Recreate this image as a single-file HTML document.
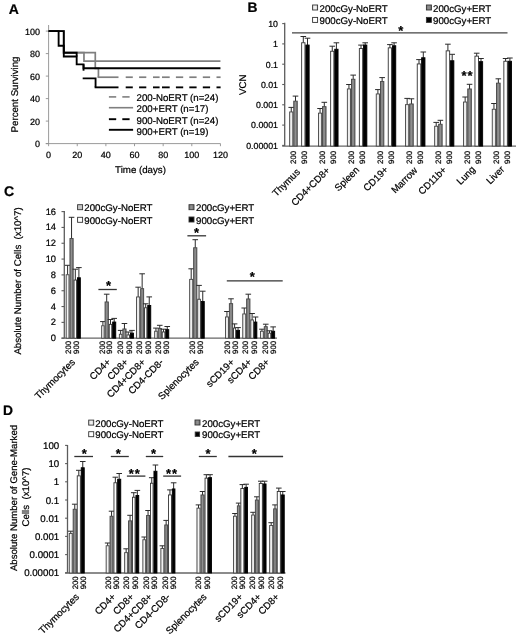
<!DOCTYPE html>
<html><head><meta charset="utf-8"><title>Figure</title>
<style>
html,body{margin:0;padding:0;background:#fff;}
text{stroke:#000;stroke-width:0.22px;}
svg{display:block;font-family:"Liberation Sans",sans-serif;text-rendering:geometricPrecision;will-change:transform;opacity:0.999;}
</style></head><body>
<svg width="520" height="638" viewBox="0 0 520 638">
<defs>
<linearGradient id="gl" x1="0" y1="0" x2="1" y2="0"><stop offset="0" stop-color="#d8d8d8"/><stop offset="0.5" stop-color="#f6f6f6"/><stop offset="1" stop-color="#d0d0d0"/></linearGradient>
<linearGradient id="gg" x1="0" y1="0" x2="1" y2="0"><stop offset="0" stop-color="#7a7a7a"/><stop offset="0.5" stop-color="#909090"/><stop offset="1" stop-color="#707070"/></linearGradient>
</defs>
<rect width="520" height="638" fill="#fff"/>
<text x="8.80" y="13.70" font-size="14" text-anchor="start" font-weight="bold" fill="#000">A</text>
<line x1="48.60" y1="25.00" x2="48.60" y2="143.60" stroke="#909090" stroke-width="0.9"/>
<line x1="45.80" y1="143.60" x2="220.50" y2="143.60" stroke="#909090" stroke-width="0.9"/>
<line x1="45.80" y1="143.60" x2="48.60" y2="143.60" stroke="#909090" stroke-width="0.9"/>
<text x="40.00" y="147.20" font-size="9.0" text-anchor="end" font-weight="normal" fill="#000">0</text>
<line x1="45.80" y1="121.10" x2="48.60" y2="121.10" stroke="#909090" stroke-width="0.9"/>
<text x="40.00" y="124.70" font-size="9.0" text-anchor="end" font-weight="normal" fill="#000">20</text>
<line x1="45.80" y1="98.60" x2="48.60" y2="98.60" stroke="#909090" stroke-width="0.9"/>
<text x="40.00" y="102.20" font-size="9.0" text-anchor="end" font-weight="normal" fill="#000">40</text>
<line x1="45.80" y1="76.10" x2="48.60" y2="76.10" stroke="#909090" stroke-width="0.9"/>
<text x="40.00" y="79.70" font-size="9.0" text-anchor="end" font-weight="normal" fill="#000">60</text>
<line x1="45.80" y1="53.60" x2="48.60" y2="53.60" stroke="#909090" stroke-width="0.9"/>
<text x="40.00" y="57.20" font-size="9.0" text-anchor="end" font-weight="normal" fill="#000">80</text>
<line x1="45.80" y1="31.10" x2="48.60" y2="31.10" stroke="#909090" stroke-width="0.9"/>
<text x="40.00" y="34.70" font-size="9.0" text-anchor="end" font-weight="normal" fill="#000">100</text>
<line x1="48.60" y1="143.60" x2="48.60" y2="146.20" stroke="#909090" stroke-width="0.9"/>
<text x="48.60" y="158.40" font-size="9.0" text-anchor="middle" font-weight="normal" fill="#000">0</text>
<line x1="77.24" y1="143.60" x2="77.24" y2="146.20" stroke="#909090" stroke-width="0.9"/>
<text x="77.24" y="158.40" font-size="9.0" text-anchor="middle" font-weight="normal" fill="#000">20</text>
<line x1="105.88" y1="143.60" x2="105.88" y2="146.20" stroke="#909090" stroke-width="0.9"/>
<text x="105.88" y="158.40" font-size="9.0" text-anchor="middle" font-weight="normal" fill="#000">40</text>
<line x1="134.52" y1="143.60" x2="134.52" y2="146.20" stroke="#909090" stroke-width="0.9"/>
<text x="134.52" y="158.40" font-size="9.0" text-anchor="middle" font-weight="normal" fill="#000">60</text>
<line x1="163.16" y1="143.60" x2="163.16" y2="146.20" stroke="#909090" stroke-width="0.9"/>
<text x="163.16" y="158.40" font-size="9.0" text-anchor="middle" font-weight="normal" fill="#000">80</text>
<line x1="191.80" y1="143.60" x2="191.80" y2="146.20" stroke="#909090" stroke-width="0.9"/>
<text x="191.80" y="158.40" font-size="9.0" text-anchor="middle" font-weight="normal" fill="#000">100</text>
<line x1="220.44" y1="143.60" x2="220.44" y2="146.20" stroke="#909090" stroke-width="0.9"/>
<text x="220.44" y="158.40" font-size="9.0" text-anchor="middle" font-weight="normal" fill="#000">120</text>
<text x="140.50" y="172.50" font-size="9.7" text-anchor="middle" font-weight="normal" fill="#000">Time (days)</text>
<text x="18.20" y="94.50" font-size="9.7" text-anchor="middle" font-weight="normal" fill="#000" transform="rotate(-90 18.20 94.50)">Percent Surviving</text>
<path d="M48.60 31.10 L63.78 31.10 L63.78 52.70 L95.28 52.70 L95.28 68.45 L98.43 68.45 L98.43 77.22" fill="none" stroke="#7f7f7f" stroke-width="1.7" stroke-linejoin="miter"/>
<line x1="97.58" y1="77.22" x2="118.50" y2="77.22" stroke="#7f7f7f" stroke-width="1.7"/>
<line x1="125.70" y1="77.22" x2="132.80" y2="77.22" stroke="#7f7f7f" stroke-width="1.7"/>
<line x1="139.10" y1="77.22" x2="146.30" y2="77.22" stroke="#7f7f7f" stroke-width="1.7"/>
<line x1="153.00" y1="77.22" x2="159.60" y2="77.22" stroke="#7f7f7f" stroke-width="1.7"/>
<line x1="162.00" y1="77.22" x2="169.70" y2="77.22" stroke="#7f7f7f" stroke-width="1.7"/>
<line x1="175.90" y1="77.22" x2="183.20" y2="77.22" stroke="#7f7f7f" stroke-width="1.7"/>
<line x1="189.30" y1="77.22" x2="196.60" y2="77.22" stroke="#7f7f7f" stroke-width="1.7"/>
<line x1="202.80" y1="77.22" x2="210.10" y2="77.22" stroke="#7f7f7f" stroke-width="1.7"/>
<line x1="216.50" y1="77.22" x2="220.60" y2="77.22" stroke="#7f7f7f" stroke-width="1.7"/>
<path d="M48.60 31.10 L63.78 31.10 L63.78 52.70 L83.97 52.70 L83.97 61.14 L220.44 61.14" fill="none" stroke="#7f7f7f" stroke-width="1.7" stroke-linejoin="miter"/>
<path d="M48.60 31.10 L58.62 31.10 L58.62 45.72 L63.78 45.72 L63.78 52.70 L76.67 52.70 L76.67 56.52" fill="none" stroke="#000" stroke-width="1.85" stroke-linejoin="miter"/>
<path d="M83.54 64.40 L83.54 70.70" fill="none" stroke="#000" stroke-width="1.85" stroke-linejoin="miter"/>
<path d="M82.68 78.35 L95.57 78.35 L95.57 87.35" fill="none" stroke="#000" stroke-width="1.85" stroke-linejoin="miter"/>
<line x1="94.64" y1="87.35" x2="118.50" y2="87.35" stroke="#000" stroke-width="1.85"/>
<line x1="125.70" y1="87.35" x2="132.80" y2="87.35" stroke="#000" stroke-width="1.85"/>
<line x1="139.10" y1="87.35" x2="146.30" y2="87.35" stroke="#000" stroke-width="1.85"/>
<line x1="153.00" y1="87.35" x2="159.60" y2="87.35" stroke="#000" stroke-width="1.85"/>
<line x1="162.00" y1="87.35" x2="169.70" y2="87.35" stroke="#000" stroke-width="1.85"/>
<line x1="175.90" y1="87.35" x2="183.20" y2="87.35" stroke="#000" stroke-width="1.85"/>
<line x1="189.30" y1="87.35" x2="196.60" y2="87.35" stroke="#000" stroke-width="1.85"/>
<line x1="202.80" y1="87.35" x2="210.10" y2="87.35" stroke="#000" stroke-width="1.85"/>
<line x1="216.50" y1="87.35" x2="220.60" y2="87.35" stroke="#000" stroke-width="1.85"/>
<path d="M48.60 31.10 L63.78 31.10 L63.78 56.52 L76.67 56.52 L76.67 64.40 L83.54 64.40 L83.54 68.22 L220.44 68.22" fill="none" stroke="#000" stroke-width="1.85" stroke-linejoin="miter"/>
<line x1="108.90" y1="96.90" x2="116.20" y2="96.90" stroke="#7f7f7f" stroke-width="1.6"/>
<line x1="122.30" y1="96.90" x2="129.60" y2="96.90" stroke="#7f7f7f" stroke-width="1.6"/>
<line x1="108.90" y1="107.70" x2="133.10" y2="107.70" stroke="#7f7f7f" stroke-width="1.6"/>
<line x1="108.90" y1="119.20" x2="116.20" y2="119.20" stroke="#000" stroke-width="1.9"/>
<line x1="122.30" y1="119.20" x2="129.60" y2="119.20" stroke="#000" stroke-width="1.9"/>
<line x1="108.90" y1="129.80" x2="133.10" y2="129.80" stroke="#000" stroke-width="1.9"/>
<text x="136.60" y="101.40" font-size="9.7" text-anchor="start" font-weight="normal" fill="#000">200-NoERT (n=24)</text>
<text x="136.60" y="112.20" font-size="9.7" text-anchor="start" font-weight="normal" fill="#000">200+ERT (n=17)</text>
<text x="136.60" y="123.70" font-size="9.7" text-anchor="start" font-weight="normal" fill="#000">900-NoERT (n=24)</text>
<text x="136.60" y="134.90" font-size="9.7" text-anchor="start" font-weight="normal" fill="#000">900+ERT (n=19)</text>
<text x="247.50" y="12.10" font-size="13.8" text-anchor="start" font-weight="bold" fill="#000">B</text>
<line x1="284.70" y1="22.80" x2="284.70" y2="146.10" stroke="#5c5c5c" stroke-width="1.3"/>
<line x1="282.20" y1="146.10" x2="516.00" y2="146.10" stroke="#666" stroke-width="1.3"/>
<line x1="282.20" y1="23.60" x2="284.70" y2="23.60" stroke="#5c5c5c" stroke-width="1.1"/>
<text x="278.00" y="26.90" font-size="8.8" text-anchor="end" font-weight="normal" fill="#000">10</text>
<line x1="282.20" y1="43.90" x2="284.70" y2="43.90" stroke="#5c5c5c" stroke-width="1.1"/>
<text x="278.00" y="47.20" font-size="8.8" text-anchor="end" font-weight="normal" fill="#000">1</text>
<line x1="282.20" y1="64.20" x2="284.70" y2="64.20" stroke="#5c5c5c" stroke-width="1.1"/>
<text x="278.00" y="67.50" font-size="8.8" text-anchor="end" font-weight="normal" fill="#000">0.1</text>
<line x1="282.20" y1="84.50" x2="284.70" y2="84.50" stroke="#5c5c5c" stroke-width="1.1"/>
<text x="278.00" y="87.80" font-size="8.8" text-anchor="end" font-weight="normal" fill="#000">0.01</text>
<line x1="282.20" y1="104.80" x2="284.70" y2="104.80" stroke="#5c5c5c" stroke-width="1.1"/>
<text x="278.00" y="108.10" font-size="8.8" text-anchor="end" font-weight="normal" fill="#000">0.001</text>
<line x1="282.20" y1="125.10" x2="284.70" y2="125.10" stroke="#5c5c5c" stroke-width="1.1"/>
<text x="278.00" y="128.40" font-size="8.8" text-anchor="end" font-weight="normal" fill="#000">0.0001</text>
<line x1="282.20" y1="145.40" x2="284.70" y2="145.40" stroke="#5c5c5c" stroke-width="1.1"/>
<text x="278.00" y="148.70" font-size="8.8" text-anchor="end" font-weight="normal" fill="#000">0.00001</text>
<text x="246.40" y="84.80" font-size="9.7" text-anchor="middle" font-weight="normal" fill="#000" transform="rotate(-90 246.40 84.80)">VCN</text>
<rect x="312.60" y="5.00" width="5.00" height="5.00" fill="url(#gl)" stroke="#333" stroke-width="0.9"/>
<text x="319.50" y="11.80" font-size="9.7" text-anchor="start" font-weight="normal" fill="#000">200cGy-NoERT</text>
<rect x="312.60" y="17.40" width="5.00" height="5.00" fill="#fff" stroke="#333" stroke-width="0.9"/>
<text x="319.50" y="24.20" font-size="9.7" text-anchor="start" font-weight="normal" fill="#000">900cGy-NoERT</text>
<rect x="426.40" y="5.00" width="5.00" height="5.00" fill="url(#gg)" stroke="#333" stroke-width="0.9"/>
<text x="433.00" y="11.80" font-size="9.7" text-anchor="start" font-weight="normal" fill="#000">200cGy+ERT</text>
<rect x="426.40" y="17.40" width="5.00" height="5.00" fill="#000" stroke="#333" stroke-width="0.9"/>
<text x="433.00" y="24.20" font-size="9.7" text-anchor="start" font-weight="normal" fill="#000">900cGy+ERT</text>
<line x1="292.00" y1="32.90" x2="507.50" y2="32.90" stroke="#444" stroke-width="1.3"/>
<text x="400.80" y="34.60" font-size="13" text-anchor="middle" font-weight="bold" fill="#000">*</text>
<line x1="291.25" y1="107.40" x2="291.25" y2="112.00" stroke="#2a2a2a" stroke-width="1.0"/>
<line x1="288.45" y1="107.40" x2="294.05" y2="107.40" stroke="#2a2a2a" stroke-width="1.0"/>
<rect x="289.65" y="111.95" width="3.20" height="34.15" fill="url(#gl)" stroke="#444" stroke-width="0.9"/>
<line x1="295.50" y1="96.10" x2="295.50" y2="101.20" stroke="#2a2a2a" stroke-width="1.0"/>
<line x1="292.70" y1="96.10" x2="298.30" y2="96.10" stroke="#2a2a2a" stroke-width="1.0"/>
<rect x="293.75" y="101.15" width="3.50" height="44.95" fill="url(#gg)" stroke="#444" stroke-width="0.9"/>
<line x1="303.30" y1="36.50" x2="303.30" y2="42.80" stroke="#2a2a2a" stroke-width="1.0"/>
<line x1="300.50" y1="36.50" x2="306.10" y2="36.50" stroke="#2a2a2a" stroke-width="1.0"/>
<rect x="301.65" y="42.75" width="3.30" height="103.35" fill="#fff" stroke="#333" stroke-width="0.9"/>
<line x1="307.50" y1="38.20" x2="307.50" y2="45.10" stroke="#2a2a2a" stroke-width="1.0"/>
<line x1="304.70" y1="38.20" x2="310.30" y2="38.20" stroke="#2a2a2a" stroke-width="1.0"/>
<rect x="305.85" y="45.05" width="3.30" height="101.05" fill="#000" stroke="#000" stroke-width="0.9"/>
<line x1="320.05" y1="108.50" x2="320.05" y2="113.20" stroke="#2a2a2a" stroke-width="1.0"/>
<line x1="317.25" y1="108.50" x2="322.85" y2="108.50" stroke="#2a2a2a" stroke-width="1.0"/>
<rect x="318.45" y="113.15" width="3.20" height="32.95" fill="url(#gl)" stroke="#444" stroke-width="0.9"/>
<line x1="324.30" y1="102.30" x2="324.30" y2="106.70" stroke="#2a2a2a" stroke-width="1.0"/>
<line x1="321.50" y1="102.30" x2="327.10" y2="102.30" stroke="#2a2a2a" stroke-width="1.0"/>
<rect x="322.55" y="106.65" width="3.50" height="39.45" fill="url(#gg)" stroke="#444" stroke-width="0.9"/>
<line x1="332.25" y1="46.20" x2="332.25" y2="51.30" stroke="#2a2a2a" stroke-width="1.0"/>
<line x1="329.45" y1="46.20" x2="335.05" y2="46.20" stroke="#2a2a2a" stroke-width="1.0"/>
<rect x="330.65" y="51.25" width="3.20" height="94.85" fill="#fff" stroke="#333" stroke-width="0.9"/>
<line x1="336.40" y1="42.80" x2="336.40" y2="49.30" stroke="#2a2a2a" stroke-width="1.0"/>
<line x1="333.60" y1="42.80" x2="339.20" y2="42.80" stroke="#2a2a2a" stroke-width="1.0"/>
<rect x="334.75" y="49.25" width="3.30" height="96.85" fill="#000" stroke="#000" stroke-width="0.9"/>
<line x1="348.95" y1="84.50" x2="348.95" y2="89.00" stroke="#2a2a2a" stroke-width="1.0"/>
<line x1="346.15" y1="84.50" x2="351.75" y2="84.50" stroke="#2a2a2a" stroke-width="1.0"/>
<rect x="347.35" y="88.95" width="3.20" height="57.15" fill="url(#gl)" stroke="#444" stroke-width="0.9"/>
<line x1="353.20" y1="75.10" x2="353.20" y2="79.30" stroke="#2a2a2a" stroke-width="1.0"/>
<line x1="350.40" y1="75.10" x2="356.00" y2="75.10" stroke="#2a2a2a" stroke-width="1.0"/>
<rect x="351.45" y="79.25" width="3.50" height="66.85" fill="url(#gg)" stroke="#444" stroke-width="0.9"/>
<line x1="361.00" y1="45.10" x2="361.00" y2="48.60" stroke="#2a2a2a" stroke-width="1.0"/>
<line x1="358.20" y1="45.10" x2="363.80" y2="45.10" stroke="#2a2a2a" stroke-width="1.0"/>
<rect x="359.35" y="48.55" width="3.30" height="97.55" fill="#fff" stroke="#333" stroke-width="0.9"/>
<line x1="365.20" y1="42.80" x2="365.20" y2="45.10" stroke="#2a2a2a" stroke-width="1.0"/>
<line x1="362.40" y1="42.80" x2="368.00" y2="42.80" stroke="#2a2a2a" stroke-width="1.0"/>
<rect x="363.55" y="45.05" width="3.30" height="101.05" fill="#000" stroke="#000" stroke-width="0.9"/>
<line x1="377.90" y1="89.60" x2="377.90" y2="94.00" stroke="#2a2a2a" stroke-width="1.0"/>
<line x1="375.10" y1="89.60" x2="380.70" y2="89.60" stroke="#2a2a2a" stroke-width="1.0"/>
<rect x="376.25" y="93.95" width="3.30" height="52.15" fill="url(#gl)" stroke="#444" stroke-width="0.9"/>
<line x1="382.15" y1="77.60" x2="382.15" y2="81.60" stroke="#2a2a2a" stroke-width="1.0"/>
<line x1="379.35" y1="77.60" x2="384.95" y2="77.60" stroke="#2a2a2a" stroke-width="1.0"/>
<rect x="380.45" y="81.55" width="3.40" height="64.55" fill="url(#gg)" stroke="#444" stroke-width="0.9"/>
<line x1="389.90" y1="44.60" x2="389.90" y2="47.90" stroke="#2a2a2a" stroke-width="1.0"/>
<line x1="387.10" y1="44.60" x2="392.70" y2="44.60" stroke="#2a2a2a" stroke-width="1.0"/>
<rect x="388.25" y="47.85" width="3.30" height="98.25" fill="#fff" stroke="#333" stroke-width="0.9"/>
<line x1="394.10" y1="42.80" x2="394.10" y2="45.80" stroke="#2a2a2a" stroke-width="1.0"/>
<line x1="391.30" y1="42.80" x2="396.90" y2="42.80" stroke="#2a2a2a" stroke-width="1.0"/>
<rect x="392.45" y="45.75" width="3.30" height="100.35" fill="#000" stroke="#000" stroke-width="0.9"/>
<line x1="407.15" y1="98.40" x2="407.15" y2="104.70" stroke="#2a2a2a" stroke-width="1.0"/>
<line x1="404.35" y1="98.40" x2="409.95" y2="98.40" stroke="#2a2a2a" stroke-width="1.0"/>
<rect x="405.55" y="104.65" width="3.20" height="41.45" fill="url(#gl)" stroke="#444" stroke-width="0.9"/>
<line x1="411.45" y1="98.80" x2="411.45" y2="104.00" stroke="#2a2a2a" stroke-width="1.0"/>
<line x1="408.65" y1="98.80" x2="414.25" y2="98.80" stroke="#2a2a2a" stroke-width="1.0"/>
<rect x="409.65" y="103.95" width="3.60" height="42.15" fill="url(#gg)" stroke="#444" stroke-width="0.9"/>
<line x1="419.00" y1="59.60" x2="419.00" y2="64.00" stroke="#2a2a2a" stroke-width="1.0"/>
<line x1="416.20" y1="59.60" x2="421.80" y2="59.60" stroke="#2a2a2a" stroke-width="1.0"/>
<rect x="417.25" y="63.95" width="3.50" height="82.15" fill="#fff" stroke="#333" stroke-width="0.9"/>
<line x1="423.30" y1="52.00" x2="423.30" y2="57.80" stroke="#2a2a2a" stroke-width="1.0"/>
<line x1="420.50" y1="52.00" x2="426.10" y2="52.00" stroke="#2a2a2a" stroke-width="1.0"/>
<rect x="421.65" y="57.75" width="3.30" height="88.35" fill="#000" stroke="#000" stroke-width="0.9"/>
<line x1="436.20" y1="122.40" x2="436.20" y2="126.30" stroke="#2a2a2a" stroke-width="1.0"/>
<line x1="433.40" y1="122.40" x2="439.00" y2="122.40" stroke="#2a2a2a" stroke-width="1.0"/>
<rect x="434.65" y="126.25" width="3.10" height="19.85" fill="url(#gl)" stroke="#444" stroke-width="0.9"/>
<line x1="440.40" y1="120.30" x2="440.40" y2="124.30" stroke="#2a2a2a" stroke-width="1.0"/>
<line x1="437.60" y1="120.30" x2="443.20" y2="120.30" stroke="#2a2a2a" stroke-width="1.0"/>
<rect x="438.65" y="124.25" width="3.50" height="21.85" fill="url(#gg)" stroke="#444" stroke-width="0.9"/>
<line x1="447.90" y1="44.20" x2="447.90" y2="50.90" stroke="#2a2a2a" stroke-width="1.0"/>
<line x1="445.10" y1="44.20" x2="450.70" y2="44.20" stroke="#2a2a2a" stroke-width="1.0"/>
<rect x="446.15" y="50.85" width="3.50" height="95.25" fill="#fff" stroke="#333" stroke-width="0.9"/>
<line x1="452.20" y1="54.30" x2="452.20" y2="60.80" stroke="#2a2a2a" stroke-width="1.0"/>
<line x1="449.40" y1="54.30" x2="455.00" y2="54.30" stroke="#2a2a2a" stroke-width="1.0"/>
<rect x="450.55" y="60.75" width="3.30" height="85.35" fill="#000" stroke="#000" stroke-width="0.9"/>
<line x1="465.15" y1="97.00" x2="465.15" y2="102.10" stroke="#2a2a2a" stroke-width="1.0"/>
<line x1="462.35" y1="97.00" x2="467.95" y2="97.00" stroke="#2a2a2a" stroke-width="1.0"/>
<rect x="463.45" y="102.05" width="3.40" height="44.05" fill="url(#gl)" stroke="#444" stroke-width="0.9"/>
<line x1="469.55" y1="84.30" x2="469.55" y2="89.00" stroke="#2a2a2a" stroke-width="1.0"/>
<line x1="466.75" y1="84.30" x2="472.35" y2="84.30" stroke="#2a2a2a" stroke-width="1.0"/>
<rect x="467.75" y="88.95" width="3.60" height="57.15" fill="url(#gg)" stroke="#444" stroke-width="0.9"/>
<line x1="476.70" y1="53.20" x2="476.70" y2="56.20" stroke="#2a2a2a" stroke-width="1.0"/>
<line x1="473.90" y1="53.20" x2="479.50" y2="53.20" stroke="#2a2a2a" stroke-width="1.0"/>
<rect x="474.95" y="56.15" width="3.50" height="89.95" fill="#fff" stroke="#333" stroke-width="0.9"/>
<line x1="481.00" y1="58.50" x2="481.00" y2="61.70" stroke="#2a2a2a" stroke-width="1.0"/>
<line x1="478.20" y1="58.50" x2="483.80" y2="58.50" stroke="#2a2a2a" stroke-width="1.0"/>
<rect x="479.35" y="61.65" width="3.30" height="84.45" fill="#000" stroke="#000" stroke-width="0.9"/>
<line x1="493.95" y1="103.50" x2="493.95" y2="109.30" stroke="#2a2a2a" stroke-width="1.0"/>
<line x1="491.15" y1="103.50" x2="496.75" y2="103.50" stroke="#2a2a2a" stroke-width="1.0"/>
<rect x="492.25" y="109.25" width="3.40" height="36.85" fill="url(#gl)" stroke="#444" stroke-width="0.9"/>
<line x1="498.35" y1="78.80" x2="498.35" y2="83.20" stroke="#2a2a2a" stroke-width="1.0"/>
<line x1="495.55" y1="78.80" x2="501.15" y2="78.80" stroke="#2a2a2a" stroke-width="1.0"/>
<rect x="496.55" y="83.15" width="3.60" height="62.95" fill="url(#gg)" stroke="#444" stroke-width="0.9"/>
<line x1="505.60" y1="58.50" x2="505.60" y2="61.30" stroke="#2a2a2a" stroke-width="1.0"/>
<line x1="502.80" y1="58.50" x2="508.40" y2="58.50" stroke="#2a2a2a" stroke-width="1.0"/>
<rect x="503.85" y="61.25" width="3.50" height="84.85" fill="#fff" stroke="#333" stroke-width="0.9"/>
<line x1="509.90" y1="58.00" x2="509.90" y2="61.30" stroke="#2a2a2a" stroke-width="1.0"/>
<line x1="507.10" y1="58.00" x2="512.70" y2="58.00" stroke="#2a2a2a" stroke-width="1.0"/>
<rect x="508.25" y="61.25" width="3.30" height="84.85" fill="#000" stroke="#000" stroke-width="0.9"/>
<text x="467.50" y="79.60" font-size="13" text-anchor="middle" font-weight="bold" fill="#000" letter-spacing="1">**</text>
<text x="295.90" y="163.90" font-size="7.8" text-anchor="start" font-weight="normal" fill="#000" transform="rotate(-90 295.90 163.90)">200</text>
<text x="307.00" y="163.90" font-size="7.8" text-anchor="start" font-weight="normal" fill="#000" transform="rotate(-90 307.00 163.90)">900</text>
<text x="300.60" y="172.70" font-size="9.7" text-anchor="end" font-weight="normal" fill="#000" transform="rotate(-45 300.60 172.70)">Thymus</text>
<text x="324.95" y="163.90" font-size="7.8" text-anchor="start" font-weight="normal" fill="#000" transform="rotate(-90 324.95 163.90)">200</text>
<text x="336.05" y="163.90" font-size="7.8" text-anchor="start" font-weight="normal" fill="#000" transform="rotate(-90 336.05 163.90)">900</text>
<text x="330.55" y="171.00" font-size="9.7" text-anchor="end" font-weight="normal" fill="#000" transform="rotate(-45 330.55 171.00)">CD4+CD8+</text>
<text x="354.00" y="163.90" font-size="7.8" text-anchor="start" font-weight="normal" fill="#000" transform="rotate(-90 354.00 163.90)">200</text>
<text x="365.10" y="163.90" font-size="7.8" text-anchor="start" font-weight="normal" fill="#000" transform="rotate(-90 365.10 163.90)">900</text>
<text x="359.90" y="170.50" font-size="9.7" text-anchor="end" font-weight="normal" fill="#000" transform="rotate(-45 359.90 170.50)">Spleen</text>
<text x="383.05" y="163.90" font-size="7.8" text-anchor="start" font-weight="normal" fill="#000" transform="rotate(-90 383.05 163.90)">200</text>
<text x="394.15" y="163.90" font-size="7.8" text-anchor="start" font-weight="normal" fill="#000" transform="rotate(-90 394.15 163.90)">900</text>
<text x="388.80" y="170.30" font-size="9.7" text-anchor="end" font-weight="normal" fill="#000" transform="rotate(-45 388.80 170.30)">CD19+</text>
<text x="412.10" y="163.90" font-size="7.8" text-anchor="start" font-weight="normal" fill="#000" transform="rotate(-90 412.10 163.90)">200</text>
<text x="423.20" y="163.90" font-size="7.8" text-anchor="start" font-weight="normal" fill="#000" transform="rotate(-90 423.20 163.90)">900</text>
<text x="418.05" y="171.00" font-size="9.7" text-anchor="end" font-weight="normal" fill="#000" transform="rotate(-45 418.05 171.00)">Marrow</text>
<text x="441.15" y="163.90" font-size="7.8" text-anchor="start" font-weight="normal" fill="#000" transform="rotate(-90 441.15 163.90)">200</text>
<text x="452.25" y="163.90" font-size="7.8" text-anchor="start" font-weight="normal" fill="#000" transform="rotate(-90 452.25 163.90)">900</text>
<text x="447.05" y="170.50" font-size="9.7" text-anchor="end" font-weight="normal" fill="#000" transform="rotate(-45 447.05 170.50)">CD11b+</text>
<text x="470.20" y="163.90" font-size="7.8" text-anchor="start" font-weight="normal" fill="#000" transform="rotate(-90 470.20 163.90)">200</text>
<text x="481.30" y="163.90" font-size="7.8" text-anchor="start" font-weight="normal" fill="#000" transform="rotate(-90 481.30 163.90)">900</text>
<text x="475.85" y="170.00" font-size="9.7" text-anchor="end" font-weight="normal" fill="#000" transform="rotate(-45 475.85 170.00)">Lung</text>
<text x="499.25" y="163.90" font-size="7.8" text-anchor="start" font-weight="normal" fill="#000" transform="rotate(-90 499.25 163.90)">200</text>
<text x="510.35" y="163.90" font-size="7.8" text-anchor="start" font-weight="normal" fill="#000" transform="rotate(-90 510.35 163.90)">900</text>
<text x="505.00" y="170.00" font-size="9.7" text-anchor="end" font-weight="normal" fill="#000" transform="rotate(-45 505.00 170.00)">Liver</text>
<text x="4.00" y="195.80" font-size="14" text-anchor="start" font-weight="bold" fill="#000">C</text>
<line x1="64.30" y1="211.00" x2="64.30" y2="338.20" stroke="#5c5c5c" stroke-width="1.3"/>
<line x1="61.50" y1="338.20" x2="277.00" y2="338.20" stroke="#666" stroke-width="1.3"/>
<line x1="61.50" y1="338.20" x2="64.30" y2="338.20" stroke="#5c5c5c" stroke-width="1.1"/>
<text x="56.00" y="341.20" font-size="9.3" text-anchor="end" font-weight="normal" fill="#000">0</text>
<line x1="61.50" y1="322.38" x2="64.30" y2="322.38" stroke="#5c5c5c" stroke-width="1.1"/>
<text x="56.00" y="325.38" font-size="9.3" text-anchor="end" font-weight="normal" fill="#000">2</text>
<line x1="61.50" y1="306.55" x2="64.30" y2="306.55" stroke="#5c5c5c" stroke-width="1.1"/>
<text x="56.00" y="309.55" font-size="9.3" text-anchor="end" font-weight="normal" fill="#000">4</text>
<line x1="61.50" y1="290.73" x2="64.30" y2="290.73" stroke="#5c5c5c" stroke-width="1.1"/>
<text x="56.00" y="293.73" font-size="9.3" text-anchor="end" font-weight="normal" fill="#000">6</text>
<line x1="61.50" y1="274.90" x2="64.30" y2="274.90" stroke="#5c5c5c" stroke-width="1.1"/>
<text x="56.00" y="277.90" font-size="9.3" text-anchor="end" font-weight="normal" fill="#000">8</text>
<line x1="61.50" y1="259.07" x2="64.30" y2="259.07" stroke="#5c5c5c" stroke-width="1.1"/>
<text x="56.00" y="262.07" font-size="9.3" text-anchor="end" font-weight="normal" fill="#000">10</text>
<line x1="61.50" y1="243.25" x2="64.30" y2="243.25" stroke="#5c5c5c" stroke-width="1.1"/>
<text x="56.00" y="246.25" font-size="9.3" text-anchor="end" font-weight="normal" fill="#000">12</text>
<line x1="61.50" y1="227.43" x2="64.30" y2="227.43" stroke="#5c5c5c" stroke-width="1.1"/>
<text x="56.00" y="230.43" font-size="9.3" text-anchor="end" font-weight="normal" fill="#000">14</text>
<line x1="61.50" y1="211.60" x2="64.30" y2="211.60" stroke="#5c5c5c" stroke-width="1.1"/>
<text x="56.00" y="214.60" font-size="9.3" text-anchor="end" font-weight="normal" fill="#000">16</text>
<text x="20.60" y="281.00" font-size="9.7" text-anchor="middle" font-weight="normal" fill="#000" transform="rotate(-90 20.60 281.00)" xml:space="preserve">Absolute Number of Cells  (x10^7)</text>
<rect x="77.60" y="204.70" width="5.00" height="5.00" fill="#c6c6c6" stroke="#333" stroke-width="0.9"/>
<text x="84.30" y="211.10" font-size="9.7" text-anchor="start" font-weight="normal" fill="#000">200cGy-NoERT</text>
<rect x="77.60" y="217.30" width="5.00" height="5.00" fill="#fff" stroke="#333" stroke-width="0.9"/>
<text x="84.30" y="223.60" font-size="9.7" text-anchor="start" font-weight="normal" fill="#000">900cGy-NoERT</text>
<rect x="189.00" y="204.70" width="5.00" height="5.00" fill="url(#gg)" stroke="#333" stroke-width="0.9"/>
<text x="196.00" y="211.40" font-size="9.7" text-anchor="start" font-weight="normal" fill="#000">200cGy+ERT</text>
<rect x="189.00" y="217.00" width="5.00" height="5.00" fill="#000" stroke="#333" stroke-width="0.9"/>
<text x="196.00" y="223.60" font-size="9.7" text-anchor="start" font-weight="normal" fill="#000">900cGy+ERT</text>
<line x1="67.60" y1="265.30" x2="67.60" y2="274.80" stroke="#2a2a2a" stroke-width="1.0"/>
<line x1="64.80" y1="265.30" x2="70.40" y2="265.30" stroke="#2a2a2a" stroke-width="1.0"/>
<rect x="66.15" y="274.75" width="2.90" height="63.45" fill="url(#gl)" stroke="#444" stroke-width="0.9"/>
<line x1="71.55" y1="217.30" x2="71.55" y2="238.60" stroke="#2a2a2a" stroke-width="1.0"/>
<line x1="68.75" y1="217.30" x2="74.35" y2="217.30" stroke="#2a2a2a" stroke-width="1.0"/>
<rect x="69.95" y="238.55" width="3.20" height="99.65" fill="url(#gg)" stroke="#444" stroke-width="0.9"/>
<line x1="75.30" y1="269.20" x2="75.30" y2="280.10" stroke="#2a2a2a" stroke-width="1.0"/>
<line x1="72.50" y1="269.20" x2="78.10" y2="269.20" stroke="#2a2a2a" stroke-width="1.0"/>
<rect x="74.05" y="280.05" width="2.50" height="58.15" fill="#fff" stroke="#333" stroke-width="0.9"/>
<line x1="78.90" y1="267.60" x2="78.90" y2="277.80" stroke="#2a2a2a" stroke-width="1.0"/>
<line x1="76.10" y1="267.60" x2="81.70" y2="267.60" stroke="#2a2a2a" stroke-width="1.0"/>
<rect x="77.45" y="277.75" width="2.90" height="60.45" fill="#000" stroke="#000" stroke-width="0.9"/>
<text x="71.30" y="353.90" font-size="7.8" text-anchor="start" font-weight="normal" fill="#000" transform="rotate(-90 71.30 353.90)">200</text>
<text x="78.70" y="353.90" font-size="7.8" text-anchor="start" font-weight="normal" fill="#000" transform="rotate(-90 78.70 353.90)">900</text>
<text x="75.70" y="362.80" font-size="9.7" text-anchor="end" font-weight="normal" fill="#000" transform="rotate(-45 75.70 362.80)">Thymocytes</text>
<line x1="102.90" y1="321.60" x2="102.90" y2="325.80" stroke="#2a2a2a" stroke-width="1.0"/>
<line x1="100.10" y1="321.60" x2="105.70" y2="321.60" stroke="#2a2a2a" stroke-width="1.0"/>
<rect x="101.65" y="325.75" width="2.50" height="12.45" fill="url(#gl)" stroke="#444" stroke-width="0.9"/>
<line x1="106.70" y1="294.20" x2="106.70" y2="302.00" stroke="#2a2a2a" stroke-width="1.0"/>
<line x1="103.90" y1="294.20" x2="109.50" y2="294.20" stroke="#2a2a2a" stroke-width="1.0"/>
<rect x="105.05" y="301.95" width="3.30" height="36.25" fill="url(#gg)" stroke="#444" stroke-width="0.9"/>
<line x1="110.50" y1="319.50" x2="110.50" y2="324.40" stroke="#2a2a2a" stroke-width="1.0"/>
<line x1="107.70" y1="319.50" x2="113.30" y2="319.50" stroke="#2a2a2a" stroke-width="1.0"/>
<rect x="109.25" y="324.35" width="2.50" height="13.85" fill="#fff" stroke="#333" stroke-width="0.9"/>
<line x1="114.20" y1="318.40" x2="114.20" y2="322.10" stroke="#2a2a2a" stroke-width="1.0"/>
<line x1="111.40" y1="318.40" x2="117.00" y2="318.40" stroke="#2a2a2a" stroke-width="1.0"/>
<rect x="112.65" y="322.05" width="3.10" height="16.15" fill="#000" stroke="#000" stroke-width="0.9"/>
<text x="104.60" y="353.90" font-size="7.8" text-anchor="start" font-weight="normal" fill="#000" transform="rotate(-90 104.60 353.90)">200</text>
<text x="111.70" y="353.90" font-size="7.8" text-anchor="start" font-weight="normal" fill="#000" transform="rotate(-90 111.70 353.90)">900</text>
<text x="111.15" y="362.80" font-size="9.7" text-anchor="end" font-weight="normal" fill="#000" transform="rotate(-45 111.15 362.80)">CD4+</text>
<line x1="120.65" y1="330.40" x2="120.65" y2="334.30" stroke="#2a2a2a" stroke-width="1.0"/>
<line x1="117.85" y1="330.40" x2="123.45" y2="330.40" stroke="#2a2a2a" stroke-width="1.0"/>
<rect x="119.35" y="334.25" width="2.60" height="3.95" fill="url(#gl)" stroke="#444" stroke-width="0.9"/>
<line x1="124.45" y1="323.50" x2="124.45" y2="329.00" stroke="#2a2a2a" stroke-width="1.0"/>
<line x1="121.65" y1="323.50" x2="127.25" y2="323.50" stroke="#2a2a2a" stroke-width="1.0"/>
<rect x="122.85" y="328.95" width="3.20" height="9.25" fill="url(#gg)" stroke="#444" stroke-width="0.9"/>
<line x1="128.25" y1="332.00" x2="128.25" y2="335.00" stroke="#2a2a2a" stroke-width="1.0"/>
<line x1="125.45" y1="332.00" x2="131.05" y2="332.00" stroke="#2a2a2a" stroke-width="1.0"/>
<rect x="126.95" y="334.95" width="2.60" height="3.25" fill="#fff" stroke="#333" stroke-width="0.9"/>
<line x1="131.95" y1="330.40" x2="131.95" y2="333.20" stroke="#2a2a2a" stroke-width="1.0"/>
<line x1="129.15" y1="330.40" x2="134.75" y2="330.40" stroke="#2a2a2a" stroke-width="1.0"/>
<rect x="130.45" y="333.15" width="3.00" height="5.05" fill="#000" stroke="#000" stroke-width="0.9"/>
<text x="122.80" y="353.90" font-size="7.8" text-anchor="start" font-weight="normal" fill="#000" transform="rotate(-90 122.80 353.90)">200</text>
<text x="131.60" y="353.90" font-size="7.8" text-anchor="start" font-weight="normal" fill="#000" transform="rotate(-90 131.60 353.90)">900</text>
<text x="128.85" y="362.80" font-size="9.7" text-anchor="end" font-weight="normal" fill="#000" transform="rotate(-45 128.85 362.80)">CD8+</text>
<line x1="138.15" y1="287.20" x2="138.15" y2="297.00" stroke="#2a2a2a" stroke-width="1.0"/>
<line x1="135.35" y1="287.20" x2="140.95" y2="287.20" stroke="#2a2a2a" stroke-width="1.0"/>
<rect x="136.55" y="296.95" width="3.20" height="41.25" fill="url(#gl)" stroke="#444" stroke-width="0.9"/>
<line x1="142.15" y1="273.80" x2="142.15" y2="288.70" stroke="#2a2a2a" stroke-width="1.0"/>
<line x1="139.35" y1="273.80" x2="144.95" y2="273.80" stroke="#2a2a2a" stroke-width="1.0"/>
<rect x="140.65" y="288.65" width="3.00" height="49.55" fill="url(#gg)" stroke="#444" stroke-width="0.9"/>
<line x1="145.70" y1="303.80" x2="145.70" y2="307.80" stroke="#2a2a2a" stroke-width="1.0"/>
<line x1="142.90" y1="303.80" x2="148.50" y2="303.80" stroke="#2a2a2a" stroke-width="1.0"/>
<rect x="144.55" y="307.75" width="2.30" height="30.45" fill="#fff" stroke="#333" stroke-width="0.9"/>
<line x1="149.25" y1="296.90" x2="149.25" y2="305.50" stroke="#2a2a2a" stroke-width="1.0"/>
<line x1="146.45" y1="296.90" x2="152.05" y2="296.90" stroke="#2a2a2a" stroke-width="1.0"/>
<rect x="147.75" y="305.45" width="3.00" height="32.75" fill="#000" stroke="#000" stroke-width="0.9"/>
<text x="141.90" y="353.90" font-size="7.8" text-anchor="start" font-weight="normal" fill="#000" transform="rotate(-90 141.90 353.90)">200</text>
<text x="150.80" y="353.90" font-size="7.8" text-anchor="start" font-weight="normal" fill="#000" transform="rotate(-90 150.80 353.90)">900</text>
<text x="146.10" y="362.80" font-size="9.7" text-anchor="end" font-weight="normal" fill="#000" transform="rotate(-45 146.10 362.80)">CD4+CD8+</text>
<line x1="155.95" y1="328.10" x2="155.95" y2="331.30" stroke="#2a2a2a" stroke-width="1.0"/>
<line x1="153.15" y1="328.10" x2="158.75" y2="328.10" stroke="#2a2a2a" stroke-width="1.0"/>
<rect x="154.65" y="331.25" width="2.60" height="6.95" fill="url(#gl)" stroke="#444" stroke-width="0.9"/>
<line x1="159.75" y1="325.30" x2="159.75" y2="328.60" stroke="#2a2a2a" stroke-width="1.0"/>
<line x1="156.95" y1="325.30" x2="162.55" y2="325.30" stroke="#2a2a2a" stroke-width="1.0"/>
<rect x="158.15" y="328.55" width="3.20" height="9.65" fill="url(#gg)" stroke="#444" stroke-width="0.9"/>
<line x1="163.55" y1="329.20" x2="163.55" y2="332.00" stroke="#2a2a2a" stroke-width="1.0"/>
<line x1="160.75" y1="329.20" x2="166.35" y2="329.20" stroke="#2a2a2a" stroke-width="1.0"/>
<rect x="162.25" y="331.95" width="2.60" height="6.25" fill="#fff" stroke="#333" stroke-width="0.9"/>
<line x1="167.25" y1="326.50" x2="167.25" y2="329.70" stroke="#2a2a2a" stroke-width="1.0"/>
<line x1="164.45" y1="326.50" x2="170.05" y2="326.50" stroke="#2a2a2a" stroke-width="1.0"/>
<rect x="165.75" y="329.65" width="3.00" height="8.55" fill="#000" stroke="#000" stroke-width="0.9"/>
<text x="161.00" y="353.90" font-size="7.8" text-anchor="start" font-weight="normal" fill="#000" transform="rotate(-90 161.00 353.90)">200</text>
<text x="169.10" y="353.90" font-size="7.8" text-anchor="start" font-weight="normal" fill="#000" transform="rotate(-90 169.10 353.90)">900</text>
<text x="164.15" y="362.80" font-size="9.7" text-anchor="end" font-weight="normal" fill="#000" transform="rotate(-45 164.15 362.80)">CD4-CD8-</text>
<line x1="191.20" y1="268.80" x2="191.20" y2="279.40" stroke="#2a2a2a" stroke-width="1.0"/>
<line x1="188.40" y1="268.80" x2="194.00" y2="268.80" stroke="#2a2a2a" stroke-width="1.0"/>
<rect x="189.65" y="279.35" width="3.10" height="58.85" fill="url(#gl)" stroke="#444" stroke-width="0.9"/>
<line x1="195.25" y1="239.70" x2="195.25" y2="247.80" stroke="#2a2a2a" stroke-width="1.0"/>
<line x1="192.45" y1="239.70" x2="198.05" y2="239.70" stroke="#2a2a2a" stroke-width="1.0"/>
<rect x="193.65" y="247.75" width="3.20" height="90.45" fill="url(#gg)" stroke="#444" stroke-width="0.9"/>
<line x1="199.05" y1="285.40" x2="199.05" y2="299.30" stroke="#2a2a2a" stroke-width="1.0"/>
<line x1="196.25" y1="285.40" x2="201.85" y2="285.40" stroke="#2a2a2a" stroke-width="1.0"/>
<rect x="197.75" y="299.25" width="2.60" height="38.95" fill="#fff" stroke="#333" stroke-width="0.9"/>
<line x1="202.75" y1="291.20" x2="202.75" y2="301.60" stroke="#2a2a2a" stroke-width="1.0"/>
<line x1="199.95" y1="291.20" x2="205.55" y2="291.20" stroke="#2a2a2a" stroke-width="1.0"/>
<rect x="201.25" y="301.55" width="3.00" height="36.65" fill="#000" stroke="#000" stroke-width="0.9"/>
<text x="194.80" y="353.90" font-size="7.8" text-anchor="start" font-weight="normal" fill="#000" transform="rotate(-90 194.80 353.90)">200</text>
<text x="202.80" y="353.90" font-size="7.8" text-anchor="start" font-weight="normal" fill="#000" transform="rotate(-90 202.80 353.90)">900</text>
<text x="199.40" y="362.80" font-size="9.7" text-anchor="end" font-weight="normal" fill="#000" transform="rotate(-45 199.40 362.80)">Splenocytes</text>
<line x1="226.95" y1="311.50" x2="226.95" y2="317.00" stroke="#2a2a2a" stroke-width="1.0"/>
<line x1="224.15" y1="311.50" x2="229.75" y2="311.50" stroke="#2a2a2a" stroke-width="1.0"/>
<rect x="225.45" y="316.95" width="3.00" height="21.25" fill="url(#gl)" stroke="#444" stroke-width="0.9"/>
<line x1="231.00" y1="298.80" x2="231.00" y2="303.70" stroke="#2a2a2a" stroke-width="1.0"/>
<line x1="228.20" y1="298.80" x2="233.80" y2="298.80" stroke="#2a2a2a" stroke-width="1.0"/>
<rect x="229.35" y="303.65" width="3.30" height="34.55" fill="url(#gg)" stroke="#444" stroke-width="0.9"/>
<line x1="234.60" y1="323.90" x2="234.60" y2="328.10" stroke="#2a2a2a" stroke-width="1.0"/>
<line x1="231.80" y1="323.90" x2="237.40" y2="323.90" stroke="#2a2a2a" stroke-width="1.0"/>
<rect x="233.55" y="328.05" width="2.10" height="10.15" fill="#fff" stroke="#333" stroke-width="0.9"/>
<line x1="238.05" y1="327.60" x2="238.05" y2="330.40" stroke="#2a2a2a" stroke-width="1.0"/>
<line x1="235.25" y1="327.60" x2="240.85" y2="327.60" stroke="#2a2a2a" stroke-width="1.0"/>
<rect x="236.55" y="330.35" width="3.00" height="7.85" fill="#000" stroke="#000" stroke-width="0.9"/>
<text x="230.00" y="353.90" font-size="7.8" text-anchor="start" font-weight="normal" fill="#000" transform="rotate(-90 230.00 353.90)">200</text>
<text x="237.70" y="353.90" font-size="7.8" text-anchor="start" font-weight="normal" fill="#000" transform="rotate(-90 237.70 353.90)">900</text>
<text x="234.95" y="362.80" font-size="9.7" text-anchor="end" font-weight="normal" fill="#000" transform="rotate(-45 234.95 362.80)">sCD19+</text>
<line x1="244.25" y1="308.00" x2="244.25" y2="314.00" stroke="#2a2a2a" stroke-width="1.0"/>
<line x1="241.45" y1="308.00" x2="247.05" y2="308.00" stroke="#2a2a2a" stroke-width="1.0"/>
<rect x="242.75" y="313.95" width="3.00" height="24.25" fill="url(#gl)" stroke="#444" stroke-width="0.9"/>
<line x1="248.30" y1="294.20" x2="248.30" y2="299.00" stroke="#2a2a2a" stroke-width="1.0"/>
<line x1="245.50" y1="294.20" x2="251.10" y2="294.20" stroke="#2a2a2a" stroke-width="1.0"/>
<rect x="246.65" y="298.95" width="3.30" height="39.25" fill="url(#gg)" stroke="#444" stroke-width="0.9"/>
<line x1="252.10" y1="313.50" x2="252.10" y2="320.00" stroke="#2a2a2a" stroke-width="1.0"/>
<line x1="249.30" y1="313.50" x2="254.90" y2="313.50" stroke="#2a2a2a" stroke-width="1.0"/>
<rect x="250.85" y="319.95" width="2.50" height="18.25" fill="#fff" stroke="#333" stroke-width="0.9"/>
<line x1="255.55" y1="317.00" x2="255.55" y2="322.10" stroke="#2a2a2a" stroke-width="1.0"/>
<line x1="252.75" y1="317.00" x2="258.35" y2="317.00" stroke="#2a2a2a" stroke-width="1.0"/>
<rect x="254.25" y="322.05" width="2.60" height="16.15" fill="#000" stroke="#000" stroke-width="0.9"/>
<text x="248.50" y="353.90" font-size="7.8" text-anchor="start" font-weight="normal" fill="#000" transform="rotate(-90 248.50 353.90)">200</text>
<text x="257.10" y="353.90" font-size="7.8" text-anchor="start" font-weight="normal" fill="#000" transform="rotate(-90 257.10 353.90)">900</text>
<text x="252.25" y="362.80" font-size="9.7" text-anchor="end" font-weight="normal" fill="#000" transform="rotate(-45 252.25 362.80)">sCD4+</text>
<line x1="261.95" y1="329.20" x2="261.95" y2="331.30" stroke="#2a2a2a" stroke-width="1.0"/>
<line x1="259.15" y1="329.20" x2="264.75" y2="329.20" stroke="#2a2a2a" stroke-width="1.0"/>
<rect x="260.55" y="331.25" width="2.80" height="6.95" fill="url(#gl)" stroke="#444" stroke-width="0.9"/>
<line x1="265.75" y1="324.20" x2="265.75" y2="326.70" stroke="#2a2a2a" stroke-width="1.0"/>
<line x1="262.95" y1="324.20" x2="268.55" y2="324.20" stroke="#2a2a2a" stroke-width="1.0"/>
<rect x="264.25" y="326.65" width="3.00" height="11.55" fill="url(#gg)" stroke="#444" stroke-width="0.9"/>
<line x1="269.45" y1="330.80" x2="269.45" y2="333.20" stroke="#2a2a2a" stroke-width="1.0"/>
<line x1="266.65" y1="330.80" x2="272.25" y2="330.80" stroke="#2a2a2a" stroke-width="1.0"/>
<rect x="268.15" y="333.15" width="2.60" height="5.05" fill="#fff" stroke="#333" stroke-width="0.9"/>
<line x1="273.15" y1="326.90" x2="273.15" y2="331.30" stroke="#2a2a2a" stroke-width="1.0"/>
<line x1="270.35" y1="326.90" x2="275.95" y2="326.90" stroke="#2a2a2a" stroke-width="1.0"/>
<rect x="271.65" y="331.25" width="3.00" height="6.95" fill="#000" stroke="#000" stroke-width="0.9"/>
<text x="267.70" y="353.90" font-size="7.8" text-anchor="start" font-weight="normal" fill="#000" transform="rotate(-90 267.70 353.90)">200</text>
<text x="276.30" y="353.90" font-size="7.8" text-anchor="start" font-weight="normal" fill="#000" transform="rotate(-90 276.30 353.90)">900</text>
<text x="270.05" y="362.80" font-size="9.7" text-anchor="end" font-weight="normal" fill="#000" transform="rotate(-45 270.05 362.80)">CD8+</text>
<line x1="98.40" y1="289.50" x2="116.80" y2="289.50" stroke="#333" stroke-width="1.3"/>
<text x="108.50" y="290.10" font-size="13" text-anchor="middle" font-weight="bold" fill="#000">*</text>
<line x1="187.40" y1="235.80" x2="206.10" y2="235.80" stroke="#333" stroke-width="1.3"/>
<text x="196.60" y="237.10" font-size="13" text-anchor="middle" font-weight="bold" fill="#000">*</text>
<line x1="226.80" y1="280.80" x2="282.70" y2="280.80" stroke="#333" stroke-width="1.3"/>
<text x="252.20" y="280.80" font-size="13" text-anchor="middle" font-weight="bold" fill="#000">*</text>
<text x="3.00" y="414.90" font-size="13.8" text-anchor="start" font-weight="bold" fill="#000">D</text>
<line x1="67.50" y1="445.00" x2="67.50" y2="573.00" stroke="#5c5c5c" stroke-width="1.3"/>
<line x1="65.10" y1="573.00" x2="285.50" y2="573.00" stroke="#666" stroke-width="1.3"/>
<line x1="65.10" y1="445.40" x2="67.50" y2="445.40" stroke="#5c5c5c" stroke-width="1.1"/>
<text x="59.20" y="448.90" font-size="9.7" text-anchor="end" font-weight="normal" fill="#000">100</text>
<line x1="65.10" y1="463.60" x2="67.50" y2="463.60" stroke="#5c5c5c" stroke-width="1.1"/>
<text x="59.20" y="467.10" font-size="9.7" text-anchor="end" font-weight="normal" fill="#000">10</text>
<line x1="65.10" y1="481.80" x2="67.50" y2="481.80" stroke="#5c5c5c" stroke-width="1.1"/>
<text x="59.20" y="485.30" font-size="9.7" text-anchor="end" font-weight="normal" fill="#000">1</text>
<line x1="65.10" y1="500.00" x2="67.50" y2="500.00" stroke="#5c5c5c" stroke-width="1.1"/>
<text x="59.20" y="503.50" font-size="9.7" text-anchor="end" font-weight="normal" fill="#000">0.1</text>
<line x1="65.10" y1="518.20" x2="67.50" y2="518.20" stroke="#5c5c5c" stroke-width="1.1"/>
<text x="59.20" y="521.70" font-size="9.7" text-anchor="end" font-weight="normal" fill="#000">0.01</text>
<line x1="65.10" y1="536.40" x2="67.50" y2="536.40" stroke="#5c5c5c" stroke-width="1.1"/>
<text x="59.20" y="539.90" font-size="9.7" text-anchor="end" font-weight="normal" fill="#000">0.001</text>
<line x1="65.10" y1="554.60" x2="67.50" y2="554.60" stroke="#5c5c5c" stroke-width="1.1"/>
<text x="59.20" y="558.10" font-size="9.7" text-anchor="end" font-weight="normal" fill="#000">0.0001</text>
<line x1="65.10" y1="572.80" x2="67.50" y2="572.80" stroke="#5c5c5c" stroke-width="1.1"/>
<text x="59.20" y="576.30" font-size="9.7" text-anchor="end" font-weight="normal" fill="#000">0.00001</text>
<text x="17.30" y="498.00" font-size="9.6" text-anchor="middle" font-weight="normal" fill="#000" transform="rotate(-90 17.30 498.00)">Absolute Number of Gene-Marked</text>
<text x="29.00" y="497.00" font-size="9.7" text-anchor="middle" font-weight="normal" fill="#000" transform="rotate(-90 29.00 497.00)" xml:space="preserve">Cells  (x10^7)</text>
<rect x="88.70" y="420.10" width="5.00" height="5.00" fill="url(#gl)" stroke="#333" stroke-width="0.9"/>
<text x="95.30" y="427.10" font-size="9.7" text-anchor="start" font-weight="normal" fill="#000">200cGy-NoERT</text>
<rect x="88.70" y="431.70" width="5.00" height="5.00" fill="#fff" stroke="#333" stroke-width="0.9"/>
<text x="95.30" y="438.00" font-size="9.7" text-anchor="start" font-weight="normal" fill="#000">900cGy-NoERT</text>
<rect x="195.00" y="420.00" width="5.00" height="5.00" fill="url(#gg)" stroke="#333" stroke-width="0.9"/>
<text x="202.00" y="427.10" font-size="9.7" text-anchor="start" font-weight="normal" fill="#000">200cGy+ERT</text>
<rect x="195.20" y="432.00" width="4.40" height="4.40" fill="#000" stroke="#333" stroke-width="0.9"/>
<text x="202.00" y="438.00" font-size="9.7" text-anchor="start" font-weight="normal" fill="#000">900cGy+ERT</text>
<line x1="70.75" y1="531.20" x2="70.75" y2="533.60" stroke="#2a2a2a" stroke-width="1.0"/>
<line x1="67.95" y1="531.20" x2="73.55" y2="531.20" stroke="#2a2a2a" stroke-width="1.0"/>
<rect x="69.25" y="533.55" width="3.00" height="39.45" fill="url(#gl)" stroke="#444" stroke-width="0.9"/>
<line x1="74.75" y1="504.20" x2="74.75" y2="509.30" stroke="#2a2a2a" stroke-width="1.0"/>
<line x1="71.95" y1="504.20" x2="77.55" y2="504.20" stroke="#2a2a2a" stroke-width="1.0"/>
<rect x="73.15" y="509.25" width="3.20" height="63.75" fill="url(#gg)" stroke="#444" stroke-width="0.9"/>
<line x1="78.80" y1="470.30" x2="78.80" y2="475.90" stroke="#2a2a2a" stroke-width="1.0"/>
<line x1="76.00" y1="470.30" x2="81.60" y2="470.30" stroke="#2a2a2a" stroke-width="1.0"/>
<rect x="77.25" y="475.85" width="3.10" height="97.15" fill="#fff" stroke="#333" stroke-width="0.9"/>
<line x1="82.75" y1="461.50" x2="82.75" y2="467.80" stroke="#2a2a2a" stroke-width="1.0"/>
<line x1="79.95" y1="461.50" x2="85.55" y2="461.50" stroke="#2a2a2a" stroke-width="1.0"/>
<rect x="81.25" y="467.75" width="3.00" height="105.25" fill="#000" stroke="#000" stroke-width="0.9"/>
<text x="77.70" y="589.30" font-size="7.8" text-anchor="start" font-weight="normal" fill="#000" transform="rotate(-90 77.70 589.30)">200</text>
<text x="85.60" y="589.30" font-size="7.8" text-anchor="start" font-weight="normal" fill="#000" transform="rotate(-90 85.60 589.30)">900</text>
<text x="79.65" y="597.50" font-size="9.7" text-anchor="end" font-weight="normal" fill="#000" transform="rotate(-45 79.65 597.50)">Thymocytes</text>
<line x1="107.65" y1="543.00" x2="107.65" y2="545.80" stroke="#2a2a2a" stroke-width="1.0"/>
<line x1="104.85" y1="543.00" x2="110.45" y2="543.00" stroke="#2a2a2a" stroke-width="1.0"/>
<rect x="106.15" y="545.75" width="3.00" height="27.25" fill="url(#gl)" stroke="#444" stroke-width="0.9"/>
<line x1="111.55" y1="511.20" x2="111.55" y2="516.30" stroke="#2a2a2a" stroke-width="1.0"/>
<line x1="108.75" y1="511.20" x2="114.35" y2="511.20" stroke="#2a2a2a" stroke-width="1.0"/>
<rect x="110.05" y="516.25" width="3.00" height="56.75" fill="url(#gg)" stroke="#444" stroke-width="0.9"/>
<line x1="115.35" y1="477.20" x2="115.35" y2="482.80" stroke="#2a2a2a" stroke-width="1.0"/>
<line x1="112.55" y1="477.20" x2="118.15" y2="477.20" stroke="#2a2a2a" stroke-width="1.0"/>
<rect x="113.95" y="482.75" width="2.80" height="90.25" fill="#fff" stroke="#333" stroke-width="0.9"/>
<line x1="119.20" y1="473.50" x2="119.20" y2="479.30" stroke="#2a2a2a" stroke-width="1.0"/>
<line x1="116.40" y1="473.50" x2="122.00" y2="473.50" stroke="#2a2a2a" stroke-width="1.0"/>
<rect x="117.65" y="479.25" width="3.10" height="93.75" fill="#000" stroke="#000" stroke-width="0.9"/>
<text x="111.30" y="589.30" font-size="7.8" text-anchor="start" font-weight="normal" fill="#000" transform="rotate(-90 111.30 589.30)">200</text>
<text x="118.80" y="589.30" font-size="7.8" text-anchor="start" font-weight="normal" fill="#000" transform="rotate(-90 118.80 589.30)">900</text>
<text x="116.35" y="597.50" font-size="9.7" text-anchor="end" font-weight="normal" fill="#000" transform="rotate(-45 116.35 597.50)">CD4+</text>
<line x1="126.15" y1="548.80" x2="126.15" y2="552.70" stroke="#2a2a2a" stroke-width="1.0"/>
<line x1="123.35" y1="548.80" x2="128.95" y2="548.80" stroke="#2a2a2a" stroke-width="1.0"/>
<rect x="124.65" y="552.65" width="3.00" height="20.35" fill="url(#gl)" stroke="#444" stroke-width="0.9"/>
<line x1="130.05" y1="515.30" x2="130.05" y2="520.90" stroke="#2a2a2a" stroke-width="1.0"/>
<line x1="127.25" y1="515.30" x2="132.85" y2="515.30" stroke="#2a2a2a" stroke-width="1.0"/>
<rect x="128.55" y="520.85" width="3.00" height="52.15" fill="url(#gg)" stroke="#444" stroke-width="0.9"/>
<line x1="133.75" y1="492.70" x2="133.75" y2="497.30" stroke="#2a2a2a" stroke-width="1.0"/>
<line x1="130.95" y1="492.70" x2="136.55" y2="492.70" stroke="#2a2a2a" stroke-width="1.0"/>
<rect x="132.45" y="497.25" width="2.60" height="75.75" fill="#fff" stroke="#333" stroke-width="0.9"/>
<line x1="137.35" y1="490.40" x2="137.35" y2="495.50" stroke="#2a2a2a" stroke-width="1.0"/>
<line x1="134.55" y1="490.40" x2="140.15" y2="490.40" stroke="#2a2a2a" stroke-width="1.0"/>
<rect x="135.95" y="495.45" width="2.80" height="77.55" fill="#000" stroke="#000" stroke-width="0.9"/>
<text x="129.30" y="589.30" font-size="7.8" text-anchor="start" font-weight="normal" fill="#000" transform="rotate(-90 129.30 589.30)">200</text>
<text x="138.40" y="589.30" font-size="7.8" text-anchor="start" font-weight="normal" fill="#000" transform="rotate(-90 138.40 589.30)">900</text>
<text x="134.60" y="597.50" font-size="9.7" text-anchor="end" font-weight="normal" fill="#000" transform="rotate(-45 134.60 597.50)">CD8+</text>
<line x1="144.25" y1="537.00" x2="144.25" y2="539.80" stroke="#2a2a2a" stroke-width="1.0"/>
<line x1="141.45" y1="537.00" x2="147.05" y2="537.00" stroke="#2a2a2a" stroke-width="1.0"/>
<rect x="142.85" y="539.75" width="2.80" height="33.25" fill="url(#gl)" stroke="#444" stroke-width="0.9"/>
<line x1="148.05" y1="510.50" x2="148.05" y2="515.60" stroke="#2a2a2a" stroke-width="1.0"/>
<line x1="145.25" y1="510.50" x2="150.85" y2="510.50" stroke="#2a2a2a" stroke-width="1.0"/>
<rect x="146.55" y="515.55" width="3.00" height="57.45" fill="url(#gg)" stroke="#444" stroke-width="0.9"/>
<line x1="151.75" y1="477.70" x2="151.75" y2="483.30" stroke="#2a2a2a" stroke-width="1.0"/>
<line x1="148.95" y1="477.70" x2="154.55" y2="477.70" stroke="#2a2a2a" stroke-width="1.0"/>
<rect x="150.45" y="483.25" width="2.60" height="89.75" fill="#fff" stroke="#333" stroke-width="0.9"/>
<line x1="155.45" y1="465.00" x2="155.45" y2="471.30" stroke="#2a2a2a" stroke-width="1.0"/>
<line x1="152.65" y1="465.00" x2="158.25" y2="465.00" stroke="#2a2a2a" stroke-width="1.0"/>
<rect x="153.95" y="471.25" width="3.00" height="101.75" fill="#000" stroke="#000" stroke-width="0.9"/>
<text x="148.60" y="589.30" font-size="7.8" text-anchor="start" font-weight="normal" fill="#000" transform="rotate(-90 148.60 589.30)">200</text>
<text x="157.50" y="589.30" font-size="7.8" text-anchor="start" font-weight="normal" fill="#000" transform="rotate(-90 157.50 589.30)">900</text>
<text x="152.80" y="597.50" font-size="9.7" text-anchor="end" font-weight="normal" fill="#000" transform="rotate(-45 152.80 597.50)">CD4+CD8+</text>
<line x1="162.35" y1="545.80" x2="162.35" y2="548.60" stroke="#2a2a2a" stroke-width="1.0"/>
<line x1="159.55" y1="545.80" x2="165.15" y2="545.80" stroke="#2a2a2a" stroke-width="1.0"/>
<rect x="160.85" y="548.55" width="3.00" height="24.45" fill="url(#gl)" stroke="#444" stroke-width="0.9"/>
<line x1="166.15" y1="520.40" x2="166.15" y2="525.00" stroke="#2a2a2a" stroke-width="1.0"/>
<line x1="163.35" y1="520.40" x2="168.95" y2="520.40" stroke="#2a2a2a" stroke-width="1.0"/>
<rect x="164.75" y="524.95" width="2.80" height="48.05" fill="url(#gg)" stroke="#444" stroke-width="0.9"/>
<line x1="169.95" y1="489.90" x2="169.95" y2="495.00" stroke="#2a2a2a" stroke-width="1.0"/>
<line x1="167.15" y1="489.90" x2="172.75" y2="489.90" stroke="#2a2a2a" stroke-width="1.0"/>
<rect x="168.45" y="494.95" width="3.00" height="78.05" fill="#fff" stroke="#333" stroke-width="0.9"/>
<line x1="173.65" y1="482.80" x2="173.65" y2="489.00" stroke="#2a2a2a" stroke-width="1.0"/>
<line x1="170.85" y1="482.80" x2="176.45" y2="482.80" stroke="#2a2a2a" stroke-width="1.0"/>
<rect x="172.35" y="488.95" width="2.60" height="84.05" fill="#000" stroke="#000" stroke-width="0.9"/>
<text x="168.00" y="589.30" font-size="7.8" text-anchor="start" font-weight="normal" fill="#000" transform="rotate(-90 168.00 589.30)">200</text>
<text x="176.40" y="589.30" font-size="7.8" text-anchor="start" font-weight="normal" fill="#000" transform="rotate(-90 176.40 589.30)">900</text>
<text x="170.80" y="597.50" font-size="9.7" text-anchor="end" font-weight="normal" fill="#000" transform="rotate(-45 170.80 597.50)">CD4-CD8-</text>
<line x1="198.50" y1="504.90" x2="198.50" y2="508.20" stroke="#2a2a2a" stroke-width="1.0"/>
<line x1="195.70" y1="504.90" x2="201.30" y2="504.90" stroke="#2a2a2a" stroke-width="1.0"/>
<rect x="196.95" y="508.15" width="3.10" height="64.85" fill="url(#gl)" stroke="#444" stroke-width="0.9"/>
<line x1="202.55" y1="491.50" x2="202.55" y2="495.00" stroke="#2a2a2a" stroke-width="1.0"/>
<line x1="199.75" y1="491.50" x2="205.35" y2="491.50" stroke="#2a2a2a" stroke-width="1.0"/>
<rect x="200.95" y="494.95" width="3.20" height="78.05" fill="url(#gg)" stroke="#444" stroke-width="0.9"/>
<line x1="206.35" y1="474.70" x2="206.35" y2="478.20" stroke="#2a2a2a" stroke-width="1.0"/>
<line x1="203.55" y1="474.70" x2="209.15" y2="474.70" stroke="#2a2a2a" stroke-width="1.0"/>
<rect x="205.05" y="478.15" width="2.60" height="94.85" fill="#fff" stroke="#333" stroke-width="0.9"/>
<line x1="210.05" y1="474.70" x2="210.05" y2="477.70" stroke="#2a2a2a" stroke-width="1.0"/>
<line x1="207.25" y1="474.70" x2="212.85" y2="474.70" stroke="#2a2a2a" stroke-width="1.0"/>
<rect x="208.55" y="477.65" width="3.00" height="95.35" fill="#000" stroke="#000" stroke-width="0.9"/>
<text x="201.20" y="589.30" font-size="7.8" text-anchor="start" font-weight="normal" fill="#000" transform="rotate(-90 201.20 589.30)">200</text>
<text x="209.80" y="589.30" font-size="7.8" text-anchor="start" font-weight="normal" fill="#000" transform="rotate(-90 209.80 589.30)">900</text>
<text x="207.15" y="597.50" font-size="9.7" text-anchor="end" font-weight="normal" fill="#000" transform="rotate(-45 207.15 597.50)">Splenocytes</text>
<line x1="234.95" y1="513.50" x2="234.95" y2="516.30" stroke="#2a2a2a" stroke-width="1.0"/>
<line x1="232.15" y1="513.50" x2="237.75" y2="513.50" stroke="#2a2a2a" stroke-width="1.0"/>
<rect x="233.45" y="516.25" width="3.00" height="56.75" fill="url(#gl)" stroke="#444" stroke-width="0.9"/>
<line x1="238.65" y1="503.10" x2="238.65" y2="505.90" stroke="#2a2a2a" stroke-width="1.0"/>
<line x1="235.85" y1="503.10" x2="241.45" y2="503.10" stroke="#2a2a2a" stroke-width="1.0"/>
<rect x="237.35" y="505.85" width="2.60" height="67.15" fill="url(#gg)" stroke="#444" stroke-width="0.9"/>
<line x1="242.35" y1="484.60" x2="242.35" y2="488.60" stroke="#2a2a2a" stroke-width="1.0"/>
<line x1="239.55" y1="484.60" x2="245.15" y2="484.60" stroke="#2a2a2a" stroke-width="1.0"/>
<rect x="240.85" y="488.55" width="3.00" height="84.45" fill="#fff" stroke="#333" stroke-width="0.9"/>
<line x1="246.15" y1="484.20" x2="246.15" y2="487.40" stroke="#2a2a2a" stroke-width="1.0"/>
<line x1="243.35" y1="484.20" x2="248.95" y2="484.20" stroke="#2a2a2a" stroke-width="1.0"/>
<rect x="244.75" y="487.35" width="2.80" height="85.65" fill="#000" stroke="#000" stroke-width="0.9"/>
<text x="237.30" y="589.30" font-size="7.8" text-anchor="start" font-weight="normal" fill="#000" transform="rotate(-90 237.30 589.30)">200</text>
<text x="244.90" y="589.30" font-size="7.8" text-anchor="start" font-weight="normal" fill="#000" transform="rotate(-90 244.90 589.30)">900</text>
<text x="243.40" y="597.50" font-size="9.7" text-anchor="end" font-weight="normal" fill="#000" transform="rotate(-45 243.40 597.50)">sCD19+</text>
<line x1="253.05" y1="512.30" x2="253.05" y2="515.10" stroke="#2a2a2a" stroke-width="1.0"/>
<line x1="250.25" y1="512.30" x2="255.85" y2="512.30" stroke="#2a2a2a" stroke-width="1.0"/>
<rect x="251.65" y="515.05" width="2.80" height="57.95" fill="url(#gl)" stroke="#444" stroke-width="0.9"/>
<line x1="256.85" y1="496.80" x2="256.85" y2="500.10" stroke="#2a2a2a" stroke-width="1.0"/>
<line x1="254.05" y1="496.80" x2="259.65" y2="496.80" stroke="#2a2a2a" stroke-width="1.0"/>
<rect x="255.35" y="500.05" width="3.00" height="72.95" fill="url(#gg)" stroke="#444" stroke-width="0.9"/>
<line x1="260.80" y1="481.20" x2="260.80" y2="483.50" stroke="#2a2a2a" stroke-width="1.0"/>
<line x1="258.00" y1="481.20" x2="263.60" y2="481.20" stroke="#2a2a2a" stroke-width="1.0"/>
<rect x="259.25" y="483.45" width="3.10" height="89.55" fill="#fff" stroke="#333" stroke-width="0.9"/>
<line x1="264.65" y1="481.20" x2="264.65" y2="484.00" stroke="#2a2a2a" stroke-width="1.0"/>
<line x1="261.85" y1="481.20" x2="267.45" y2="481.20" stroke="#2a2a2a" stroke-width="1.0"/>
<rect x="263.25" y="483.95" width="2.80" height="89.05" fill="#000" stroke="#000" stroke-width="0.9"/>
<text x="255.50" y="589.30" font-size="7.8" text-anchor="start" font-weight="normal" fill="#000" transform="rotate(-90 255.50 589.30)">200</text>
<text x="264.10" y="589.30" font-size="7.8" text-anchor="start" font-weight="normal" fill="#000" transform="rotate(-90 264.10 589.30)">900</text>
<text x="261.75" y="597.50" font-size="9.7" text-anchor="end" font-weight="normal" fill="#000" transform="rotate(-45 261.75 597.50)">sCD4+</text>
<line x1="271.20" y1="522.70" x2="271.20" y2="525.50" stroke="#2a2a2a" stroke-width="1.0"/>
<line x1="268.40" y1="522.70" x2="274.00" y2="522.70" stroke="#2a2a2a" stroke-width="1.0"/>
<rect x="269.65" y="525.45" width="3.10" height="47.55" fill="url(#gl)" stroke="#444" stroke-width="0.9"/>
<line x1="275.00" y1="504.90" x2="275.00" y2="508.90" stroke="#2a2a2a" stroke-width="1.0"/>
<line x1="272.20" y1="504.90" x2="277.80" y2="504.90" stroke="#2a2a2a" stroke-width="1.0"/>
<rect x="273.65" y="508.85" width="2.70" height="64.15" fill="url(#gg)" stroke="#444" stroke-width="0.9"/>
<line x1="278.80" y1="488.10" x2="278.80" y2="491.60" stroke="#2a2a2a" stroke-width="1.0"/>
<line x1="276.00" y1="488.10" x2="281.60" y2="488.10" stroke="#2a2a2a" stroke-width="1.0"/>
<rect x="277.25" y="491.55" width="3.10" height="81.45" fill="#fff" stroke="#333" stroke-width="0.9"/>
<line x1="282.75" y1="491.50" x2="282.75" y2="495.00" stroke="#2a2a2a" stroke-width="1.0"/>
<line x1="279.95" y1="491.50" x2="285.55" y2="491.50" stroke="#2a2a2a" stroke-width="1.0"/>
<rect x="281.25" y="494.95" width="3.00" height="78.05" fill="#000" stroke="#000" stroke-width="0.9"/>
<text x="274.30" y="589.30" font-size="7.8" text-anchor="start" font-weight="normal" fill="#000" transform="rotate(-90 274.30 589.30)">200</text>
<text x="283.20" y="589.30" font-size="7.8" text-anchor="start" font-weight="normal" fill="#000" transform="rotate(-90 283.20 589.30)">900</text>
<text x="279.85" y="597.50" font-size="9.7" text-anchor="end" font-weight="normal" fill="#000" transform="rotate(-45 279.85 597.50)">CD8+</text>
<line x1="74.30" y1="456.50" x2="93.00" y2="456.50" stroke="#333" stroke-width="1.3"/>
<text x="84.20" y="458.10" font-size="13" text-anchor="middle" font-weight="bold" fill="#000">*</text>
<line x1="110.80" y1="456.50" x2="128.80" y2="456.50" stroke="#333" stroke-width="1.3"/>
<text x="118.40" y="458.10" font-size="13" text-anchor="middle" font-weight="bold" fill="#000">*</text>
<line x1="126.90" y1="476.10" x2="145.40" y2="476.10" stroke="#333" stroke-width="1.3"/>
<text x="134.80" y="477.70" font-size="13" text-anchor="middle" font-weight="bold" fill="#000" letter-spacing="1">**</text>
<line x1="145.80" y1="456.50" x2="163.20" y2="456.50" stroke="#333" stroke-width="1.3"/>
<text x="153.50" y="458.10" font-size="13" text-anchor="middle" font-weight="bold" fill="#000">*</text>
<line x1="163.20" y1="476.10" x2="181.10" y2="476.10" stroke="#333" stroke-width="1.3"/>
<text x="172.00" y="477.70" font-size="13" text-anchor="middle" font-weight="bold" fill="#000" letter-spacing="1">**</text>
<line x1="198.80" y1="456.50" x2="216.80" y2="456.50" stroke="#333" stroke-width="1.3"/>
<text x="208.10" y="458.10" font-size="13" text-anchor="middle" font-weight="bold" fill="#000">*</text>
<line x1="228.40" y1="456.50" x2="283.10" y2="456.50" stroke="#333" stroke-width="1.3"/>
<text x="254.20" y="458.10" font-size="13" text-anchor="middle" font-weight="bold" fill="#000">*</text>
</svg>
</body></html>
